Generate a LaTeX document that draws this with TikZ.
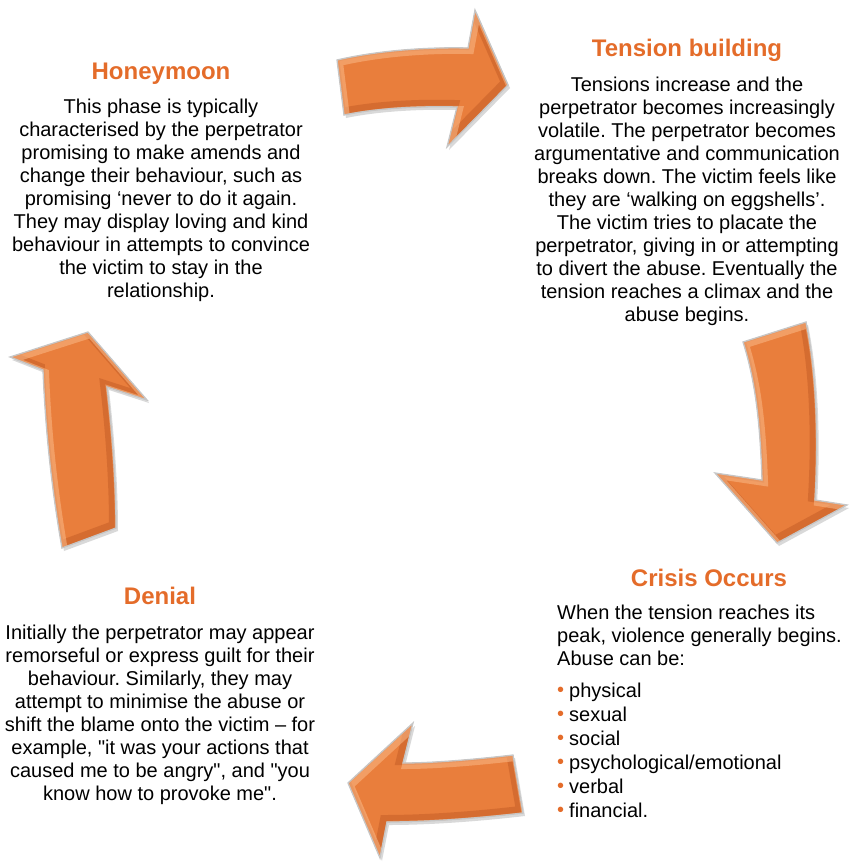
\documentclass[tikz,border=0pt]{standalone}
\usepackage{fontspec}
\setmainfont{Liberation Sans}[Ligatures=TeXOff]
\usetikzlibrary{positioning}
\definecolor{phase}{RGB}{228,108,42}
\definecolor{arrowlight}{RGB}{250,186,136}
\definecolor{arrowmid}{RGB}{233,126,60}
\definecolor{arrowdark}{RGB}{184,82,30}
\newcommand{\abusedot}{\textcolor{phase}{\raisebox{1pt}{•}}\hspace{5pt}}
% one bevelled arrow: shadow, orange body with light and dark rims, silver edge
\newcommand{\phasearrow}[1]{%
	\fill[black, opacity=0.15, shift={(2,3)}] #1;
	\begin{scope}
		\clip #1;
		\fill[arrowmid] #1;
		\draw[arrowdark, line width=9pt, opacity=0.4, shift={(-2.5,-2.5)}] #1;
		\draw[arrowlight, line width=7pt, opacity=0.55, shift={(2.5,2.5)}] #1;
	\end{scope}
	\draw[rim] #1;
}

\tikzset{
	heading/.style={font=\fontsize{24}{28}\selectfont\bfseries, text=phase, inner sep=0pt, anchor=base},
	blurb/.style={font=\fontsize{20}{23}\selectfont, align=center, inner sep=0pt, anchor=north},
	rim/.style={draw=gray!45, line width=1.3pt, line join=miter}
}

\begin{document}
\frenchspacing
\begin{tikzpicture}[x=1pt,y=-1pt]
	\useasboundingbox (0,0) rectangle (852,862);

	% the four curved arrows of the cycle
	\phasearrow{(337,60) .. controls (380,50) and (430,47) .. (468,48) -- (475,10) -- (508,85)
		-- (447,147) -- (457,107) .. controls (420,106) and (378,108) .. (344,115) -- cycle}
	\phasearrow{(806,322) .. controls (818,380) and (818,450) .. (815,500) -- (847,505) -- (777,543)
		-- (715,473) -- (762,480) .. controls (760,420) and (755,380) .. (743,342) -- cycle}
	\phasearrow{(513,755) .. controls (470,760) and (430,763) .. (403,763) -- (413,723) -- (348,783)
		-- (380,858) -- (387,822) .. controls (430,822) and (480,818) .. (523,813) -- cycle}
	\phasearrow{(62,548) .. controls (50,480) and (45,420) .. (43,370) -- (10,357) -- (88,332)
		-- (147,400) -- (107,387) .. controls (112,430) and (116,480) .. (116,528) -- cycle}

	% honeymoon
	\node[heading] (honeymoon) at (161,79) {Honeymoon};
	\node[blurb] (honeymoontext) at (161,98.5) {This phase is typically\\
		characterised by the perpetrator\\
		promising to make amends and\\
		change their behaviour, such as\\
		promising ‘never to do it again.\\
		They may display loving and kind\\
		behaviour in attempts to convince\\
		the victim to stay in the\\
		relationship.};

	% tension building
	\node[heading] (tension) at (687,56) {Tension building};
	\node[blurb] (tensiontext) at (687,76.5) {Tensions increase and the\\
		perpetrator becomes increasingly\\
		volatile. The perpetrator becomes\\
		argumentative and communication\\
		breaks down. The victim feels like\\
		they are ‘walking on eggshells’.\\
		The victim tries to placate the\\
		perpetrator, giving in or attempting\\
		to divert the abuse. Eventually the\\
		tension reaches a climax and the\\
		abuse begins.};

	% crisis
	\node[heading] (crisis) at (709,586) {Crisis Occurs};
	\node[blurb, align=left, anchor=north west] (crisistext) at (557,604.5) {When the tension reaches its\\
		peak, violence generally begins.\\
		Abuse can be:};
	\node[blurb, align=left, anchor=north west, font=\fontsize{20}{24}\selectfont] (abuse) at (557,683) {\abusedot physical\\
		\abusedot sexual\\
		\abusedot social\\
		\abusedot psychological/emotional\\
		\abusedot verbal\\
		\abusedot financial.};

	% denial
	\node[heading] (denial) at (160,604) {Denial};
	\node[blurb] (denialtext) at (160,624.5) {Initially the perpetrator may appear\\
		remorseful or express guilt for their\\
		behaviour. Similarly, they may\\
		attempt to minimise the abuse or\\
		shift the blame onto the victim – for\\
		example, "it was your actions that\\
		caused me to be angry", and "you\\
		know how to provoke me".};
\end{tikzpicture}
\end{document}
